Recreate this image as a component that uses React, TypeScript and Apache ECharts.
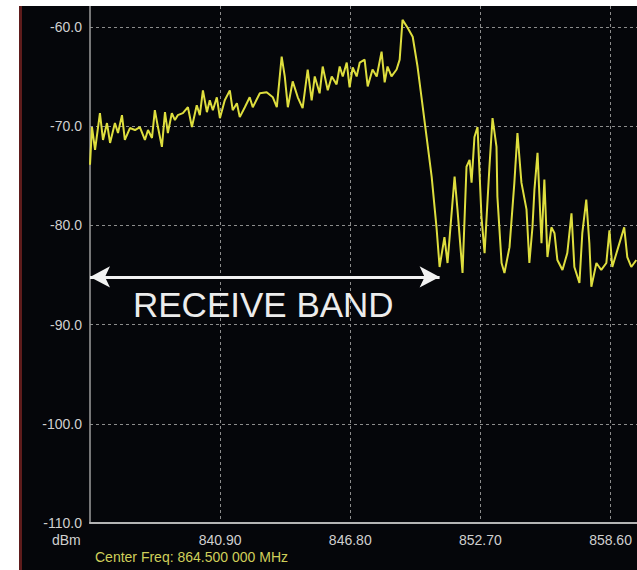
import React, { useEffect, useRef } from "react";
import * as echarts from "echarts";

// Spectrum trace (MHz, dBm)
const FREQ_MHZ = [
  835.0, 835.09, 835.23, 835.45, 835.59, 835.77, 835.91, 836.13, 836.27, 836.45,
  836.58, 836.81, 837.04, 837.26, 837.49, 837.63, 837.81, 837.94, 838.08, 838.26,
  838.4, 838.53, 838.71, 838.85, 838.98, 839.21, 839.44, 839.62, 839.84, 839.98,
  840.12, 840.3, 840.43, 840.57, 840.75, 840.89, 841.11, 841.34, 841.47, 841.66,
  841.79, 842.02, 842.24, 842.38, 842.7, 843.01, 843.29, 843.47, 843.69, 843.83,
  843.97, 844.19, 844.42, 844.64, 844.87, 845.05, 845.19, 845.41, 845.55, 845.78,
  845.96, 846.18, 846.32, 846.46, 846.64, 846.77, 846.91, 847.09, 847.23, 847.45,
  847.59, 847.81, 848.0, 848.22, 848.36, 848.49, 848.67, 848.9, 849.04, 849.17,
  849.4, 849.63, 849.85, 850.03, 850.26, 850.49, 850.71,
  850.85, 851.07, 851.21, 851.53, 851.66, 851.89, 852.07, 852.21, 852.3, 852.43,
  852.57, 852.75, 852.89, 853.11, 853.25, 853.43, 853.47, 853.66, 853.79, 854.02,
  854.24, 854.38, 854.56, 854.79, 854.92, 855.06, 855.15, 855.29, 855.47, 855.6,
  855.74, 855.92, 856.06, 856.19, 856.42, 856.64, 856.83, 856.96, 857.19, 857.32,
  857.5, 857.64, 857.73, 857.96, 858.18, 858.41, 858.55, 858.68, 858.91, 859.22,
  859.36, 859.54, 859.77,
];
const LEVEL_DBM = [
  -73.9, -70.1, -72.4, -68.7, -71.4, -69.7, -71.7, -69.7, -70.7, -68.9,
  -71.4, -70.2, -70.4, -70.1, -71.4, -70.4, -71.2, -68.4, -70.1, -72.1,
  -68.6, -70.7, -68.7, -69.4, -68.9, -68.7, -68.1, -70.1, -67.9, -68.9,
  -66.4, -68.6, -67.4, -68.4, -67.1, -69.2, -67.4, -66.4, -68.4, -67.7,
  -69.1, -68.1, -67.1, -68.1, -66.7, -66.6, -67.1, -68.1, -63.0, -65.0,
  -68.1, -65.5, -67.1, -68.2, -64.3, -67.4, -65.0, -66.7, -64.0, -66.4,
  -65.0, -65.8, -64.0, -65.0, -63.6, -66.1, -64.1, -65.0, -63.6, -63.3,
  -66.0, -64.3, -65.0, -62.5, -65.6, -64.0, -65.0, -64.3, -63.3, -59.3,
  -60.1, -61.0, -64.0, -67.1, -71.1, -75.1, -80.2,
  -84.2, -81.2, -83.8, -75.1, -78.4, -84.8, -74.1, -73.4, -75.7, -71.1,
  -70.1, -79.2, -82.8, -74.1, -69.2, -72.1, -77.1, -83.8, -84.8, -82.2,
  -75.7, -70.7, -75.7, -78.4, -83.8, -80.2, -76.4, -72.7, -81.8, -75.4,
  -83.2, -80.2, -80.8, -83.5, -84.5, -82.8, -78.8, -84.2, -85.8, -80.8,
  -77.4, -81.8, -86.2, -83.8, -84.5, -83.8, -80.5, -84.2, -82.5, -80.2,
  -83.2, -84.2, -83.5,
];

const FREQ_START = 835.0; // left edge of the display
const FREQ_END = 859.8; // right edge of the visible display
const FREQ_STEP = 5.9; // MHz per division
const DBM_MIN = -110;
const DBM_MAX = -57.9;
const DBM_STEP = 10;

// Receive band arrow (annotation)
const BAND_START = 835.0;
const BAND_END = 850.85;
const BAND_LEVEL = -85.2;

const Y_UNIT = "dBm";
const CENTER_TEXT = "Center Freq: 864.500 000 MHz";
const BAND_TEXT = "RECEIVE BAND";

const FONT = "'Liberation Sans', Arial, sans-serif";

export default function App() {
  const ref = useRef<HTMLDivElement>(null);

  useEffect(() => {
    if (!ref.current) return;
    const chart = echarts.init(ref.current, undefined, { renderer: "svg" });
    const data = FREQ_MHZ.map((f, i) => [+(f - FREQ_START).toFixed(3), LEVEL_DBM[i]]);

    chart.setOption({
      animation: false,
      backgroundColor: "#05060a",
      grid: { left: 68, right: 0, top: 0, bottom: 47, containLabel: false },
      xAxis: {
        type: "value",
        min: 0,
        max: +(FREQ_END - FREQ_START).toFixed(2),
        interval: FREQ_STEP,
        axisLine: { show: true, onZero: false, lineStyle: { color: "#b4b4b4", width: 2 } },
        axisTick: { show: false },
        axisLabel: {
          show: true,
          showMinLabel: false,
          showMaxLabel: false,
          color: "#d0d0d0",
          fontFamily: FONT,
          fontSize: 14,
          margin: 10,
          formatter: (v: number) => {
            const k = Math.round(v / FREQ_STEP);
            if (k === 0 || Math.abs(k * FREQ_STEP - v) > 1e-6) return "";
            return (FREQ_START + v).toFixed(2);
          },
        },
        splitLine: {
          show: true,
          showMinLine: false,
          showMaxLine: false,
          lineStyle: { color: "#8c8c8c", width: 1, type: [3, 3] },
        },
      },
      yAxis: {
        type: "value",
        min: DBM_MIN,
        max: DBM_MAX,
        interval: DBM_STEP,
        axisLine: { show: true, onZero: false, lineStyle: { color: "#9c9c9c", width: 1.5 } },
        axisTick: { show: false },
        axisLabel: {
          show: true,
          showMaxLabel: false,
          color: "#d0d0d0",
          fontFamily: FONT,
          fontSize: 14,
          margin: 8,
          formatter: (v: number) => (Math.abs(v % DBM_STEP) < 1e-6 ? v.toFixed(1) : ""),
        },
        splitLine: {
          show: true,
          showMinLine: false,
          showMaxLine: false,
          lineStyle: { color: "#8c8c8c", width: 1, type: [3, 3] },
        },
      },
      series: [
        {
          type: "line",
          data,
          showSymbol: false,
          symbol: "none",
          lineStyle: { color: "#dede3e", width: 2 },
          silent: true,
          z: 5,
          markLine: {
            silent: true,
            symbol: ["arrow", "arrow"],
            symbolSize: [16, 20],
            label: { show: false },
            lineStyle: { color: "#f2f2f2", width: 3, type: "solid" },
            data: [
              [
                { coord: [BAND_START - FREQ_START, BAND_LEVEL] },
                { coord: [BAND_END - FREQ_START, BAND_LEVEL] },
              ],
            ],
          },
        },
      ],
      graphic: [
        {
          type: "text",
          left: 111,
          top: 281,
          style: { text: BAND_TEXT, fill: "#ececec", font: `35px ${FONT}` },
          z: 10,
        },
        {
          type: "text",
          left: 30,
          top: 527,
          style: { text: Y_UNIT, fill: "#d0d0d0", font: `14px ${FONT}` },
        },
        {
          type: "text",
          left: 73,
          top: 544,
          style: { text: CENTER_TEXT, fill: "#cfcf5a", font: `14px ${FONT}` },
        },
      ],
    });
    return () => chart.dispose();
  }, []);

  return (
    <div style={{ position: "absolute", left: 0, top: 0, width: 637, height: 570, background: "#ffffff", overflow: "hidden" }}>
      <div style={{ position: "absolute", left: 19, top: 6, width: 3, height: 564, background: "#5e1c1c" }} />
      <div ref={ref} style={{ position: "absolute", left: 22, top: 6, width: 615, height: 564 }} />
    </div>
  );
}
